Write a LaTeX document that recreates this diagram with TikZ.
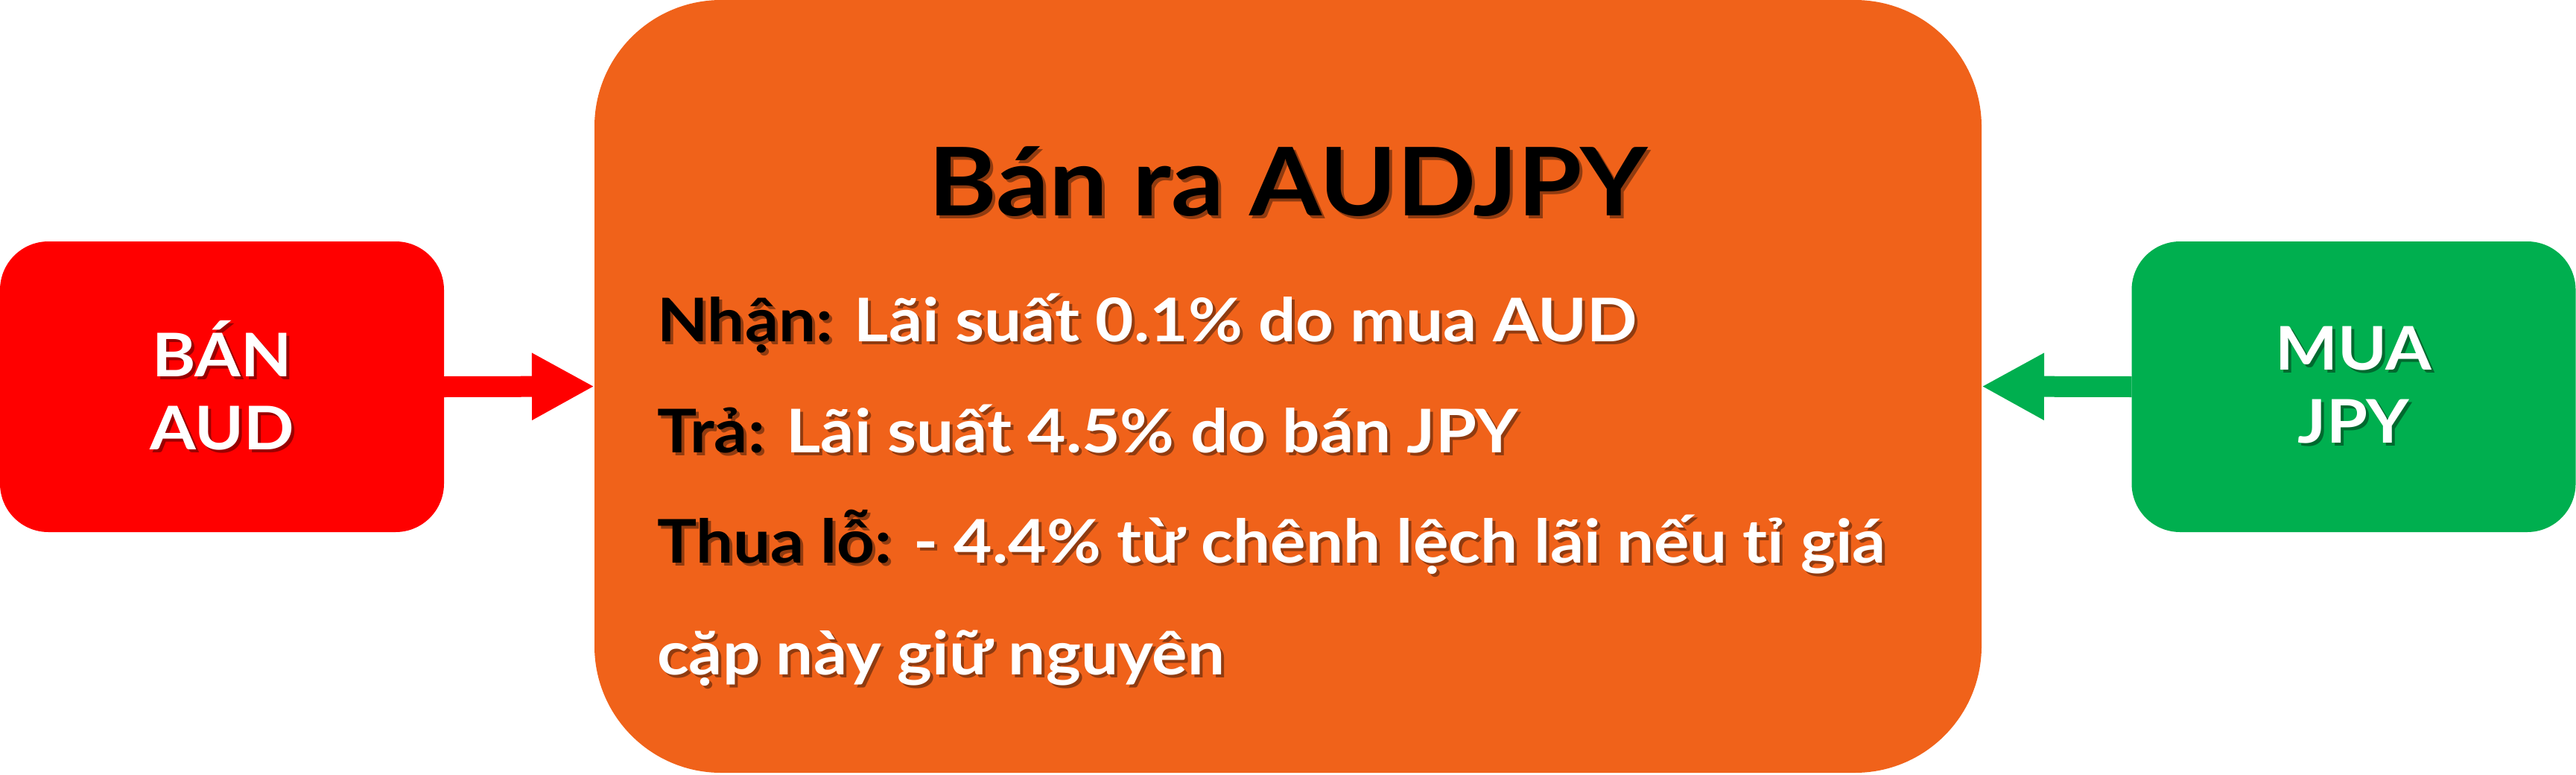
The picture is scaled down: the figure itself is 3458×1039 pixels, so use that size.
\documentclass[tikz,border=0pt]{standalone}
\usepackage{fontspec}
\setmainfont{Lato}[FakeStretch=1.1]
\usetikzlibrary{arrows.meta}
\definecolor{orangebg}{HTML}{F0621A}
\definecolor{redbg}{HTML}{FF0000}
\definecolor{greenbg}{HTML}{00AF4F}
\colorlet{osh}{orangebg!60!black}
\colorlet{rsh}{redbg!60!black}
\colorlet{gsh}{greenbg!60!black}
\newcommand\shtxt[3]{\makebox[0pt][l]{\kern1pt\raisebox{-1pt}{\textcolor{#1}{#3}}}\textcolor{#2}{#3}}
\tikzset{
  box/.style={inner sep=0pt, outer sep=0pt, align=center},
  sidebox/.style={box, minimum width=149pt, minimum height=97.5pt, rounded corners=16.25pt,
     font=\fontsize{20.2}{24.5}\selectfont\bfseries},
  bodytext/.style={inner sep=0pt, outer sep=0pt, anchor=base west, font=\fontsize{20.2}{24}\selectfont\bfseries},
  titletext/.style={inner sep=0pt, outer sep=0pt, anchor=base, font=\fontsize{31.75}{38}\selectfont\bfseries},
  conn/.style={line width=7pt, -{Triangle[length=21pt,width=21pt]}}
}
\begin{document}
\begin{tikzpicture}[x=0.25pt,y=-0.25pt]
\useasboundingbox (0,0) rectangle (3458,1039);
\node[box, fill=orangebg, minimum width=465.5pt, minimum height=259.25pt, rounded corners=42.5pt] (main) at (1729,518.5) {};
\node[sidebox, fill=redbg] (sell) at (298,519) {\shtxt{rsh}{white}{BÁN}\\\shtxt{rsh}{white}{AUD}};
\node[sidebox, fill=greenbg] (buy) at (3159.5,519) {\shtxt{gsh}{white}{MUA}\\\shtxt{gsh}{white}{JPY}};
\draw[conn, redbg] (sell.east) -- (main.west);
\draw[conn, greenbg] (buy.west) -- (main.east);
\node[titletext] (title) at (1729,289) {\shtxt{osh}{black}{Bán ra AUDJPY}};
\node[bodytext] (l1) at (882,458) {\shtxt{osh}{black}{Nhận:} \shtxt{osh}{white}{Lãi suất 0.1\% do mua AUD}};
\node[bodytext] (l2) at (882,607) {\shtxt{osh}{black}{Trả:} \shtxt{osh}{white}{Lãi suất 4.5\% do bán JPY}};
\node[bodytext] (l3) at (882,755) {\shtxt{osh}{black}{Thua lỗ:} \shtxt{osh}{white}{- 4.4\% từ chênh lệch lãi nếu tỉ giá}};
\node[bodytext] (l4) at (882,905) {\shtxt{osh}{white}{cặp này giữ nguyên}};
\end{tikzpicture}
\end{document}
